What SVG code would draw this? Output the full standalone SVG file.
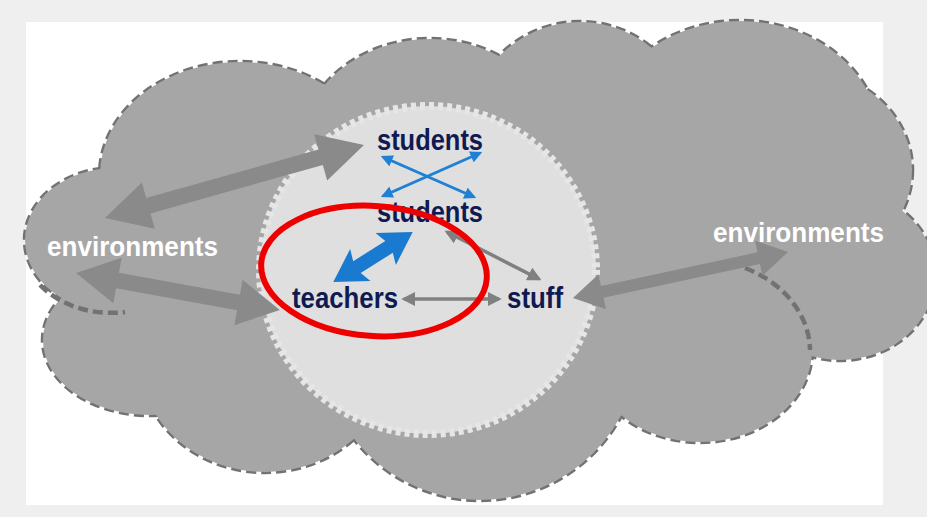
<svg xmlns="http://www.w3.org/2000/svg" width="927" height="517" viewBox="0 0 927 517">
<defs>
<style>
.lobe-s{fill:none;stroke:#727272;stroke-width:4.5;stroke-dasharray:10 5}
.lobe-f{fill:#a6a6a6;stroke:none}
.lbl{font-family:"Liberation Sans",Arial,sans-serif;font-weight:bold;font-size:29px;fill:#0f1a52}
.env{font-family:"Liberation Sans",Arial,sans-serif;font-weight:bold;font-size:28px;fill:#ffffff}
.garrow{fill:#8a8a8a}
.barrow{fill:#1a7ad0}
.thinb{stroke:#1f80d6;stroke-width:3;fill:none}
.thing{stroke:#808080;stroke-width:3.5;fill:none}
</style>
<marker id="mb" viewBox="0 0 10 10" refX="8" refY="5" markerWidth="4" markerHeight="4" orient="auto-start-reverse" markerUnits="strokeWidth"><path d="M0,0 L10,5 L0,10 z" fill="#1f80d6"/></marker>
<marker id="mg" viewBox="0 0 10 10" refX="8" refY="5" markerWidth="4" markerHeight="4" orient="auto-start-reverse" markerUnits="strokeWidth"><path d="M0,0 L10,5 L0,10 z" fill="#808080"/></marker>
</defs>
<rect x="0" y="0" width="927" height="517" fill="#efefef"/>
<rect x="26" y="22" width="857" height="483" fill="#ffffff"/>

<g id="cloud">
<g>
<ellipse class="lobe-s" cx="115" cy="240" rx="90" ry="72"/>
<ellipse class="lobe-s" cx="240" cy="175" rx="140" ry="113"/>
<ellipse class="lobe-s" cx="430" cy="150" rx="130" ry="111"/>
<ellipse class="lobe-s" cx="580" cy="140" rx="115" ry="118"/>
<ellipse class="lobe-s" cx="740" cy="140" rx="140" ry="119"/>
<ellipse class="lobe-s" cx="800" cy="170" rx="112" ry="100"/>
<ellipse class="lobe-s" cx="840" cy="275" rx="95" ry="85"/>
<ellipse class="lobe-s" cx="700" cy="350" rx="112" ry="92"/>
<ellipse class="lobe-s" cx="480" cy="340" rx="160" ry="160"/>
<ellipse class="lobe-s" cx="265" cy="360" rx="125" ry="112"/>
<ellipse class="lobe-s" cx="150" cy="340" rx="107" ry="75"/>
</g>
<g>
<ellipse class="lobe-f" cx="115" cy="240" rx="90" ry="72"/>
<ellipse class="lobe-f" cx="240" cy="175" rx="140" ry="113"/>
<ellipse class="lobe-f" cx="430" cy="150" rx="130" ry="111"/>
<ellipse class="lobe-f" cx="580" cy="140" rx="115" ry="118"/>
<ellipse class="lobe-f" cx="740" cy="140" rx="140" ry="119"/>
<ellipse class="lobe-f" cx="800" cy="170" rx="112" ry="100"/>
<ellipse class="lobe-f" cx="840" cy="275" rx="95" ry="85"/>
<ellipse class="lobe-f" cx="700" cy="350" rx="112" ry="92"/>
<ellipse class="lobe-f" cx="480" cy="340" rx="160" ry="160"/>
<ellipse class="lobe-f" cx="265" cy="360" rx="125" ry="112"/>
<ellipse class="lobe-f" cx="150" cy="340" rx="107" ry="75"/>
<ellipse class="lobe-f" cx="470" cy="260" rx="330" ry="150"/>
</g>
<path class="lobe-s" d="M745,268 A112,92 0 0 1 810,350"/>
<path class="lobe-s" d="M40,285 A90,72 0 0 0 125,312"/>
</g>

<g id="inner-circle">
<ellipse cx="428" cy="270" rx="168" ry="164" fill="#dfdfdf" stroke="#e6e6e6" stroke-width="8" stroke-dasharray="5 4"/>
</g>

<g id="connectors">
<polygon class="garrow" transform="translate(234.5,181.5) rotate(-15.7)" points="-134.5,0 -89.5,-24 -89.5,-8 89.5,-8 89.5,-24 134.5,0 89.5,24 89.5,8 -89.5,8 -89.5,24"/>
<polygon class="garrow" transform="translate(178,291.5) rotate(10.3)" points="-103.5,0 -61.5,-23 -61.5,-8 61.5,-8 61.5,-23 103.5,0 61.5,23 61.5,8 -61.5,8 -61.5,23"/>
<polygon class="garrow" transform="translate(680.5,275) rotate(-12.1)" points="-110,0 -80,-18 -80,-6 80,-6 80,-18 110,0 80,18 80,6 -80,6 -80,18"/>
<polygon class="barrow" transform="translate(373,257) rotate(-32.3)" points="-47,0 -15,-19 -19,-7 19,-7 15,-19 47,0 15,19 19,7 -19,7 -15,19"/>
<line class="thinb" x1="383" y1="157" x2="474" y2="197" marker-start="url(#mb)" marker-end="url(#mb)"/>
<line class="thinb" x1="383" y1="196" x2="480" y2="153" marker-start="url(#mb)" marker-end="url(#mb)"/>
<line class="thing" x1="404" y1="299" x2="499" y2="299" marker-start="url(#mg)" marker-end="url(#mg)"/>
<line class="thing" x1="447" y1="232" x2="539" y2="279" marker-start="url(#mg)" marker-end="url(#mg)"/>
</g>

<g id="env-left"><text class="env" x="47" y="256" textLength="171" lengthAdjust="spacingAndGlyphs">environments</text></g>
<g id="env-right"><text class="env" x="713" y="242" textLength="171" lengthAdjust="spacingAndGlyphs">environments</text></g>
<g id="students-top"><text class="lbl" x="377" y="150" textLength="106" lengthAdjust="spacingAndGlyphs">students</text></g>
<g id="students-bottom"><text class="lbl" x="377" y="222" textLength="106" lengthAdjust="spacingAndGlyphs">students</text></g>
<g id="teachers"><text class="lbl" x="292" y="308" textLength="106" lengthAdjust="spacingAndGlyphs">teachers</text></g>
<g id="stuff"><text class="lbl" x="507" y="308" textLength="56" lengthAdjust="spacingAndGlyphs">stuff</text></g>

<g id="highlight">
<ellipse cx="374" cy="271" rx="113" ry="65" transform="rotate(4 374 271)" fill="none" stroke="#ee0000" stroke-width="6"/>
</g>
</svg>
